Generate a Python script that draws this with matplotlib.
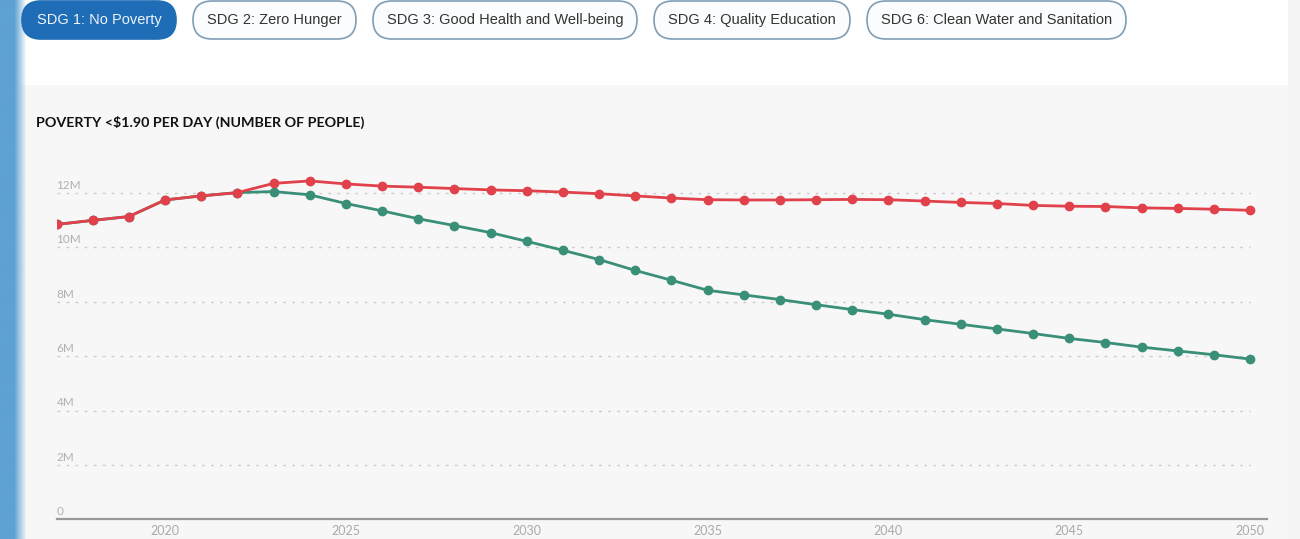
import numpy as np
import matplotlib
matplotlib.use("Agg")
import matplotlib.pyplot as plt
from matplotlib.patches import FancyBboxPatch, Rectangle

# Дані (мільйони людей)
years = list(range(2017, 2051))
baseline = [10.84, 10.99, 11.13, 11.74, 11.89, 12.01, 12.35, 12.44, 12.33, 12.25,
            12.21, 12.16, 12.11, 12.08, 12.03, 11.97, 11.89, 11.81, 11.75, 11.74,
            11.74, 11.75, 11.76, 11.75, 11.70, 11.65, 11.61, 11.54, 11.51, 11.50,
            11.45, 11.43, 11.40, 11.36]
sdg = [10.84, 10.99, 11.13, 11.74, 11.89, 12.01, 12.05, 11.93, 11.61, 11.34,
       11.05, 10.80, 10.54, 10.22, 9.89, 9.55, 9.15, 8.79, 8.42, 8.25,
       8.08, 7.89, 7.71, 7.54, 7.34, 7.17, 7.00, 6.83, 6.65, 6.50,
       6.33, 6.19, 6.05, 5.89]
y_ticks = [0, 2, 4, 6, 8, 10, 12]
y_labels = ["0", "2M", "4M", "6M", "8M", "10M", "12M"]
x_ticks = [2020, 2025, 2030, 2035, 2040, 2045, 2050]
tabs = ["SDG 1: No Poverty", "SDG 2: Zero Hunger", "SDG 3: Good Health and Well-being",
        "SDG 4: Quality Education", "SDG 6: Clean Water and Sanitation"]
title = "POVERTY <$1.90 PER DAY (NUMBER OF PEOPLE)"

W, H = 1300, 539
fig = plt.figure(figsize=(W / 100, H / 100), dpi=100, facecolor="white")

# Фон сторінки в піксельних координатах
bg = fig.add_axes([0, 0, 1, 1], zorder=0)
bg.set_xlim(0, W)
bg.set_ylim(H, 0)
bg.axis("off")
bg.add_patch(Rectangle((20, 85), 1268, H - 85, facecolor="#f7f7f7", edgecolor="none"))
bg.add_patch(Rectangle((1288, 0), 12, H, facecolor="#f3f3f3", edgecolor="none"))

# Синя смуга зліва з градієнтом
grad = np.zeros((1, 30, 4))
grad[..., 0:3] = matplotlib.colors.to_rgb("#5da2d2")
grad[0, :, 3] = np.clip((26 - np.arange(30)) / 12.0, 0, 1)
bg.imshow(grad, extent=(0, 30, H, 0), aspect="auto", interpolation="bilinear", zorder=1)

# Кнопки-вкладки
tab_x = [(21, 177), (192, 357), (372, 638), (653, 851), (866, 1127)]
for i, (label, (x0, x1)) in enumerate(zip(tabs, tab_x)):
    active = i == 0
    bg.add_patch(FancyBboxPatch((x0 + 1, 1), x1 - x0 - 2, 38,
                                boxstyle="round,pad=0,rounding_size=19",
                                facecolor="#1f6db6" if active else "#fafcfd",
                                edgecolor="#1f6db6" if active else "#7f9db5",
                                linewidth=1.2, zorder=2))
    bg.text((x0 + x1) / 2, 20, label, ha="center", va="center",
            fontsize=10.5, family="Liberation Sans",
            color="#eef4fa" if active else "#333333", zorder=3)

bg.text(36, 122, title, ha="left", va="center", fontsize=10.3,
        family="Lato", weight="bold", color="#111111")

# Графік
px_year = 36.17
x_left, x_right, y_bottom, y_top = 56.5, 1267, 519.3, 150
px_m = 27.2
ax = fig.add_axes([x_left / W, (H - y_bottom) / H,
                   (x_right - x_left) / W, (y_bottom - y_top) / H], zorder=1)
ax.patch.set_alpha(0)
ax.set_xlim(2017, 2017 + (x_right - x_left) / px_year)
ax.set_ylim(0, (y_bottom - y_top) / px_m)

for t, lab in zip(y_ticks, y_labels):
    if t > 0:
        ax.hlines(t, 2017, 2050, colors="#cccccc", linewidth=1,
                  linestyles=(0, (2, 4.5)), zorder=1)
    ax.annotate(lab, (2017, t), xytext=(0, 1.5), textcoords="offset points",
                ha="left", va="bottom", fontsize=8.5, family="Lato", color="#b0b0b0")

ax.plot(years, sdg, color="#3a8f78", linewidth=2, marker="o", markersize=6, zorder=3)
ax.plot(years, baseline, color="#e0414b", linewidth=2, marker="o", markersize=6, zorder=4)

for s in ["top", "right", "left"]:
    ax.spines[s].set_visible(False)
ax.spines["bottom"].set_color("#999999")
ax.spines["bottom"].set_linewidth(1.6)
ax.set_yticks([])
ax.set_xticks(x_ticks)
ax.set_xticklabels([str(x) for x in x_ticks], fontsize=9, family="Lato", color="#aaaaaa")
ax.tick_params(axis="x", length=0, pad=4)

fig.savefig("out.png", dpi=100, facecolor="white")
